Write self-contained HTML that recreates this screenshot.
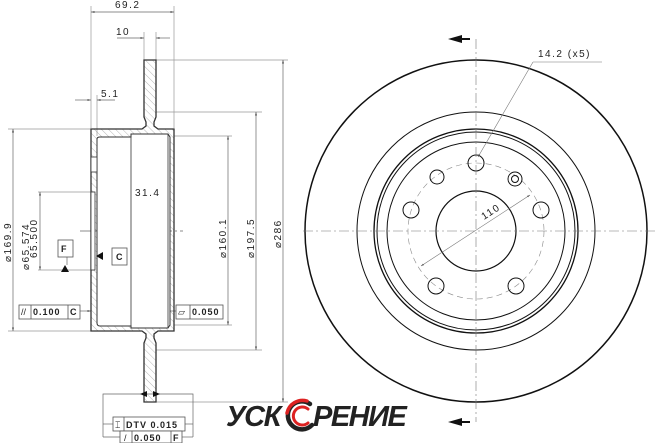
<!DOCTYPE html>
<html><head><meta charset="utf-8"><style>
html,body{margin:0;padding:0;background:#fff;}
svg{display:block;}
text{font-family:"Liberation Sans",sans-serif;fill:#222;letter-spacing:1.5px;}
</style></head><body>
<svg width="655" height="443" viewBox="0 0 655 443" xmlns="http://www.w3.org/2000/svg">
<defs>
<pattern id="h" width="5" height="5" patternUnits="userSpaceOnUse" patternTransform="rotate(-45)">
<line x1="0" y1="0" x2="0" y2="5" stroke="#888" stroke-width="0.6"/></pattern>
<marker id="a" viewBox="0 0 10 10" refX="10" refY="5" markerWidth="5" markerHeight="5" orient="auto-start-reverse"><path d="M0,2 L10,5 L0,8z" fill="#555"/></marker>
</defs>
<g stroke="#999" stroke-width="0.7" fill="none">
<line x1="91" y1="6" x2="91" y2="128"/><line x1="174" y1="6" x2="174" y2="128"/>
<line x1="144" y1="32" x2="144" y2="60"/><line x1="156" y1="32" x2="156" y2="60"/>
<line x1="97" y1="95" x2="97" y2="136"/>
<line x1="156" y1="60" x2="288" y2="60"/><line x1="156" y1="112" x2="262" y2="112"/>
<line x1="156" y1="350" x2="262" y2="350"/><line x1="156" y1="402" x2="288" y2="402"/>
<line x1="174" y1="136" x2="232" y2="136"/><line x1="174" y1="325" x2="232" y2="325"/>
<line x1="8" y1="129" x2="91" y2="129"/><line x1="8" y1="331" x2="91" y2="331"/>
<line x1="38" y1="192" x2="95" y2="192"/><line x1="38" y1="270" x2="95" y2="270"/>
</g>
<g stroke="#666" stroke-width="0.7" fill="none">
<line x1="91" y1="12" x2="174" y2="12" marker-start="url(#a)" marker-end="url(#a)"/>
<line x1="117" y1="38" x2="144" y2="38" marker-end="url(#a)"/><line x1="170" y1="38" x2="156" y2="38" marker-end="url(#a)"/>
<line x1="75" y1="100" x2="91" y2="100" marker-end="url(#a)"/><line x1="115" y1="100" x2="97" y2="100" marker-end="url(#a)"/>
<line x1="132" y1="200" x2="170" y2="200" marker-start="url(#a)" marker-end="url(#a)"/>
<line x1="13" y1="129" x2="13" y2="331" marker-start="url(#a)" marker-end="url(#a)"/>
<line x1="40" y1="192" x2="40" y2="270" marker-start="url(#a)" marker-end="url(#a)"/>
<line x1="228" y1="136" x2="228" y2="325" marker-start="url(#a)" marker-end="url(#a)"/>
<line x1="256" y1="112" x2="256" y2="350" marker-start="url(#a)" marker-end="url(#a)"/>
<line x1="283" y1="60" x2="283" y2="402" marker-start="url(#a)" marker-end="url(#a)"/>
<line x1="80" y1="311" x2="91" y2="311" marker-end="url(#a)"/>
<line x1="176" y1="311" x2="97" y2="311"/>
<line x1="80" y1="231" x2="183" y2="231" stroke-dasharray="12,3,2,3"/>
<polyline points="103,437 103,394 193,394 193,437"/>
<line x1="103" y1="424" x2="113" y2="424"/><line x1="185" y1="424" x2="193" y2="424"/>
<line x1="103" y1="437" x2="120" y2="437"/><line x1="182" y1="437" x2="193" y2="437"/>
<line x1="67" y1="257" x2="67" y2="265"/><line x1="104" y1="256" x2="112" y2="256"/>
</g>
<g stroke="#333" stroke-width="1.3" fill="url(#h)">
<path d="M144,60 H156 V117 L154,122 V126 L158,129 H174 V331 H158 L154,334 V338 L156,343 V402 H144 V343 L146,338 V334 L142,331 H91 V129 H142 L146,126 V122 L144,117 Z"/>
</g>
<path d="M97,139 Q97,137 100,137 H131 V134 H168 L170,137 V325 L168,328 H131 V326 H100 Q97,326 97,323 Z" fill="#fff" stroke="#333" stroke-width="1"/>
<g stroke="#333" stroke-width="0.8" fill="#fff">
<rect x="91" y="157" width="6" height="15"/>
<rect x="91" y="192" width="4" height="78"/>
<line x1="131" y1="137" x2="131" y2="326"/><line x1="168" y1="134" x2="168" y2="328"/>
</g>
<path d="M96,256 L103,252 L103,260z" fill="#111"/>
<path d="M61,272 L69,272 L65,265z" fill="#111"/>
<path d="M140,394 L147,391 L147,397z M160,394 L153,391 L153,397z" fill="#111"/>
<g font-size="10">
<text x="115" y="8">69.2</text>
<text x="116" y="35">10</text>
<text x="101" y="97">5.1</text>
<text x="135" y="196">31.4</text>
</g>
<g font-size="10">
<text transform="translate(11,262) rotate(-90)">⌀169.9</text>
<text transform="translate(29,270) rotate(-90)">⌀65.574</text>
<text transform="translate(37,258) rotate(-90)">65.500</text>
<text transform="translate(226,258) rotate(-90)">⌀160.1</text>
<text transform="translate(254,258) rotate(-90)">⌀197.5</text>
<text transform="translate(281,248) rotate(-90)">⌀286</text>
</g>
<g stroke="#555" stroke-width="0.8" fill="#fff">
<rect x="58" y="240" width="15" height="17"/><rect x="112" y="248" width="15" height="17"/>
<rect x="19" y="305" width="61" height="14"/><line x1="31" y1="305" x2="31" y2="319"/><line x1="68" y1="305" x2="68" y2="319"/>
<rect x="176" y="305" width="47" height="14"/><line x1="190" y1="305" x2="190" y2="319"/>
<rect x="113" y="417" width="72" height="14"/><line x1="124" y1="417" x2="124" y2="431"/>
<rect x="120" y="431" width="62" height="12"/><line x1="132" y1="431" x2="132" y2="443"/><line x1="171" y1="431" x2="171" y2="443"/>
</g>
<g font-size="9" font-weight="bold">
<text x="61" y="252" style="letter-spacing:0">F</text><text x="116" y="260" style="letter-spacing:0">C</text>
<text x="21" y="315" font-weight="normal" style="letter-spacing:0">//</text><text x="33" y="315" style="letter-spacing:1px">0.100</text><text x="70" y="315" style="letter-spacing:0">C</text>
<text x="178" y="315" font-weight="normal" style="letter-spacing:0">▱</text><text x="192" y="315" style="letter-spacing:1px">0.050</text>
<text x="115" y="428" font-weight="normal" style="letter-spacing:0">⌶</text><text x="126" y="428" style="letter-spacing:1px">DTV 0.015</text>
<text x="124" y="441" font-weight="normal" style="letter-spacing:0">/</text><text x="134" y="441" style="letter-spacing:1px">0.050</text><text x="173" y="441" style="letter-spacing:0">F</text>
</g>
<g stroke="#111" fill="none">
<circle cx="476" cy="231" r="171" stroke-width="1.5"/>
<circle cx="476" cy="231" r="119" stroke-width="1"/>
<circle cx="476" cy="231" r="102" stroke-width="1.3"/>
<circle cx="476" cy="231" r="99" stroke-width="1"/>
<circle cx="476" cy="231" r="89" stroke-width="1"/>
<circle cx="476" cy="231" r="40" stroke-width="1.2"/>
<circle cx="476" cy="231" r="68" stroke="#888" stroke-width="0.6" stroke-dasharray="6,4"/>
<g stroke-width="1">
<circle cx="476" cy="163" r="8"/><circle cx="541" cy="210" r="8"/><circle cx="411" cy="210" r="8"/>
<circle cx="436" cy="286" r="8"/><circle cx="516" cy="286" r="8"/>
<circle cx="437" cy="177" r="7"/><circle cx="515" cy="179" r="7"/><circle cx="515" cy="179" r="3.5"/>
</g>
</g>
<g stroke="#777" stroke-width="0.6" fill="none">
<line x1="476" y1="39" x2="476" y2="422" stroke-dasharray="10,3,2,3"/>
<line x1="303" y1="231" x2="655" y2="231" stroke-dasharray="10,3,2,3"/>
<line x1="533" y1="62" x2="602" y2="62"/>
<line x1="533" y1="62" x2="478" y2="157" marker-end="url(#a)"/>
<line x1="421" y1="266" x2="530" y2="195" marker-start="url(#a)" marker-end="url(#a)"/>
</g>
<path d="M448,39 L462,35 L462,43z M448,422 L462,418 L462,426z" fill="#111"/>
<line x1="462" y1="39" x2="470" y2="39" stroke="#111" stroke-width="2"/>
<line x1="462" y1="422" x2="470" y2="422" stroke="#111" stroke-width="2"/>
<text x="538" y="57" font-size="10">14.2 (x5)</text>
<text transform="translate(484,220) rotate(-33)" font-size="10">110</text>
<g font-weight="bold" font-style="italic" font-size="29">
<text x="226" y="426" style="fill:#222;letter-spacing:-1.5px">УСК</text>
<text x="313" y="426" style="fill:#222;letter-spacing:-1.5px">РЕНИЕ</text>
</g>
<g fill="none" stroke-linecap="round">
<path d="M310,404 A14,14 0 1 0 312,425" stroke="#222" stroke-width="4.5"/>
<path d="M307,401 A16,16 0 0 0 287,413" stroke="#d22" stroke-width="3.5"/>
<path d="M308,409 A9,9 0 1 0 308,423" stroke="#d22" stroke-width="3"/>
</g>
</svg>
</body></html>
